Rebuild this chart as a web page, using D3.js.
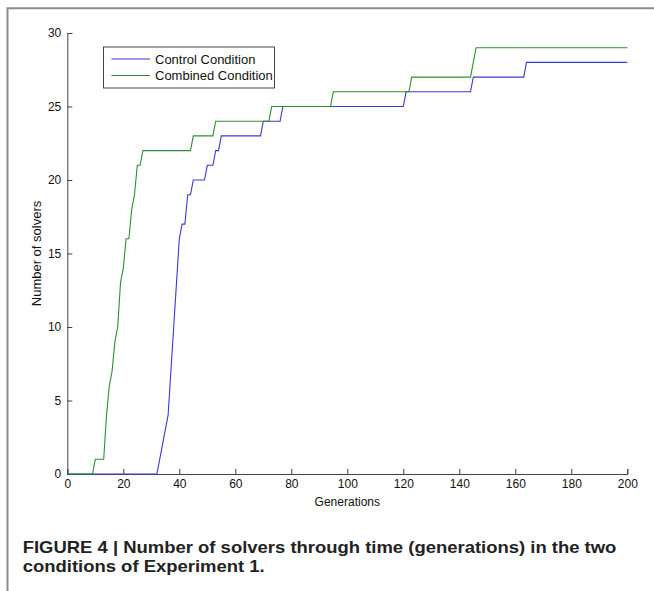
<!DOCTYPE html>
<html>
<head>
<meta charset="utf-8">
<script src="https://cdn.jsdelivr.net/npm/d3@7"></script>
<style>
  html, body { margin: 0; padding: 0; background: #fff; }
  svg { display: block; font-family: "Liberation Sans", Arial, Helvetica, sans-serif; }
</style>
</head>
<body>
<script>
// Generation breakpoints and cumulative number of solvers for each condition
const controlGen      = [0, 32, 33, 34, 35, 36, 37, 38, 39, 40, 41, 42, 43, 44, 45, 49, 50, 52, 53, 54, 55, 69, 70, 76, 77, 120, 121, 144, 145, 163, 164, 200];
const controlSolvers  = [0,  0,  1,  2,  3,  4,  7, 10, 13, 16, 17, 17, 19, 19, 20, 20, 21, 21, 22, 22, 23, 23, 24, 24, 25,  25,  26,  26,  27,  27,  28,  28];
const combinedGen     = [0, 9, 10, 13, 14, 15, 16, 17, 18, 19, 20, 21, 22, 23, 24, 25, 26, 27, 44, 45, 52, 53, 72, 73, 94, 95, 122, 123, 144, 145, 146, 200];
const combinedSolvers = [0, 0,  1,  1,  4,  6,  7,  9, 10, 13, 14, 16, 16, 18, 19, 21, 21, 22, 22, 23, 23, 24, 24, 25, 25, 26,  26,  27,  27,  28,  29,  29];

const seriesNames  = ["Control Condition", "Combined Condition"];
const seriesColors = ["#3a3ad4", "#2f8f2f"];
const xTicks = [0, 20, 40, 60, 80, 100, 120, 140, 160, 180, 200];
const yTicks = [0, 5, 10, 15, 20, 25, 30];
const xTitle = "Generations";
const yTitle = "Number of solvers";
const captionLines = [
  "FIGURE 4 | Number of solvers through time (generations) in the two",
  "conditions of Experiment 1."
];

const W = 654, H = 591;
const plot = { left: 67.3, right: 627.3, top: 33, bottom: 474 };

const svg = d3.select("body").append("svg").attr("width", W).attr("height", H);

// page frame (top and left rules)
svg.append("path")
  .attr("d", `M7.5,${H} L7.5,8.3 L${W},8.3`)
  .attr("fill", "none").attr("stroke", "#8c8c8c").attr("stroke-width", 2);

const x = d3.scaleLinear().domain([0, 200]).range([plot.left, plot.right]);
const y = d3.scaleLinear().domain([0, 30]).range([plot.bottom, plot.top]);

// axes: ticks point inwards, labels outside
const xAxis = d3.axisBottom(x).tickValues(xTicks).tickSize(-5).tickPadding(7).tickFormat(d3.format("d"));
const yAxis = d3.axisLeft(y).tickValues(yTicks).tickSize(-5).tickPadding(6).tickFormat(d3.format("d"));

const gx = svg.append("g").attr("transform", `translate(0,${plot.bottom})`).call(xAxis);
const gy = svg.append("g").attr("transform", `translate(${plot.left},0)`).call(yAxis);
[gx, gy].forEach(g => {
  g.select(".domain").attr("stroke", "#444").attr("stroke-width", 1);
  g.selectAll(".tick line").attr("stroke", "#444");
  g.selectAll(".tick text").attr("fill", "#111").style("font-size", "12px").style("font-family", "inherit");
});
gx.selectAll(".tick text").attr("dy", "0.6em");

svg.append("text")
  .attr("x", (plot.left + plot.right) / 2).attr("y", 506)
  .attr("text-anchor", "middle").attr("fill", "#111").style("font-size", "12px")
  .text(xTitle);

svg.append("text")
  .attr("transform", `translate(41,${(plot.top + plot.bottom) / 2}) rotate(-90)`)
  .attr("text-anchor", "middle").attr("fill", "#111").style("font-size", "13px")
  .text(yTitle);

// step-like cumulative curves
const line = d3.line().x(d => x(d[0])).y(d => y(d[1]));
const series = [
  d3.zip(controlGen, controlSolvers),
  d3.zip(combinedGen, combinedSolvers)
];
series.forEach((pts, i) => {
  svg.append("path")
    .datum(pts)
    .attr("d", line)
    .attr("fill", "none")
    .attr("stroke", seriesColors[i])
    .attr("stroke-width", 1.1);
});

// legend
const legend = svg.append("g").attr("transform", "translate(103.5,47)");
legend.append("rect")
  .attr("width", 171).attr("height", 41)
  .attr("fill", "#fff").attr("stroke", "#444").attr("stroke-width", 1);
seriesNames.forEach((name, i) => {
  const ry = 12 + i * 16.5;
  legend.append("line")
    .attr("x1", 8).attr("x2", 46.5).attr("y1", ry).attr("y2", ry)
    .attr("stroke", seriesColors[i]).attr("stroke-width", 1.1);
  legend.append("text")
    .attr("x", 51.5).attr("y", ry).attr("dy", "0.35em")
    .attr("fill", "#111").style("font-size", "13px")
    .text(name);
});

// caption
const cap = svg.append("g");
const capTexts = captionLines.map((t, i) =>
  cap.append("text")
    .attr("x", 0).attr("y", 553.5 + i * 19)
    .attr("fill", "#222").style("font-size", "16.5px").style("font-weight", "bold")
    .text(t)
);
const natural = capTexts[0].node().getComputedTextLength();
const k = 594 / natural;
cap.attr("transform", `translate(22.7,0) scale(${k},1)`);
</script>
</body>
</html>
